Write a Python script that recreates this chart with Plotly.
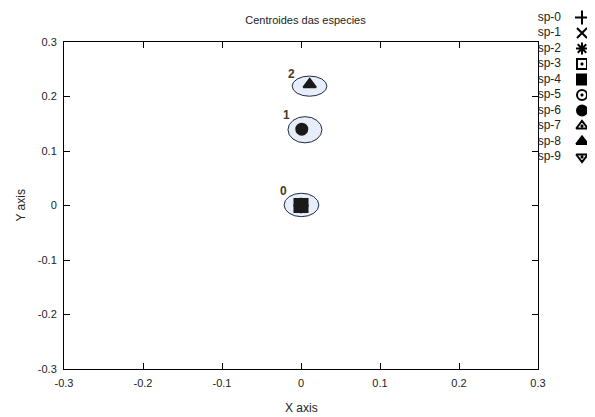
import plotly.graph_objects as go

# ---- data ----
species = ["sp-0", "sp-1", "sp-2", "sp-3", "sp-4", "sp-5", "sp-6", "sp-7", "sp-8", "sp-9"]
species_x = [0.0, 0.0, 0.0, 0.0, 0.0, 0.0, 0.001, 0.0, 0.011, 0.0]
species_y = [0.0, 0.0, 0.0, 0.0, 0.0, 0.0, 0.14, 0.0, 0.222, 0.0]
symbols = ["cross-thin-open", "x-thin-open", "asterisk-open", "square-open-dot", "square",
           "circle-open-dot", "circle", "triangle-up-open-dot", "triangle-up", "triangle-down-open-dot"]

groups = ["0", "1", "2"]
group_cx = [0.0006, 0.005, 0.0108]
group_cy = [0.001, 0.139, 0.219]
group_rx = [0.022, 0.0215, 0.022]
group_ry = [0.0215, 0.024, 0.0185]

tick_vals = [-0.3, -0.2, -0.1, 0, 0.1, 0.2, 0.3]
tick_text = ["-0.3", "-0.2", "-0.1", "0", "0.1", "0.2", "0.3"]

# figure geometry (page body adds an 8px offset)
W, H = 587, 409
L, B = 56, 48
PLOT_W = W - L
PLOT_H = H - B
RIGHT, TOP = 530, 34
x_dom_end = (RIGHT - L) / PLOT_W
y_dom_end = (PLOT_H - TOP) / PLOT_H

font = "Liberation Sans, Arial, sans-serif"
fig = go.Figure()

# species markers (filled square drawn last so it sits on top at origin)
order = [i for i in range(len(species)) if i != 4] + [4]
for i in order:
    fig.add_trace(go.Scatter(
        x=[species_x[i]], y=[species_y[i]], mode="markers",
        marker=dict(symbol=symbols[i], size=13 if i == 4 else 11, color="#1a1a1a",
                    line=dict(color="#1a1a1a", width=2)),
        showlegend=False, xaxis="x", yaxis="y", hoverinfo="skip"))

# gnuplot-style key on the right
row5, rowstep = 87, 15.5
for i, name in enumerate(species):
    yy = row5 + rowstep * (i - 5)
    fig.add_trace(go.Scatter(
        x=[574], y=[yy], mode="markers", cliponaxis=False,
        marker=dict(symbol=symbols[i], size=10, color="#000",
                    line=dict(color="#000", width=2)),
        showlegend=False, xaxis="x2", yaxis="y2", hoverinfo="skip"))
    fig.add_trace(go.Scatter(
        x=[553], y=[yy], mode="text", text=[name], textposition="middle left",
        cliponaxis=False,
        textfont=dict(family=font, size=12, color="#222"),
        showlegend=False, xaxis="x2", yaxis="y2", hoverinfo="skip"))

# ellipses + group labels
for g, cx, cy, rx, ry in zip(groups, group_cx, group_cy, group_rx, group_ry):
    fig.add_shape(type="circle", xref="x", yref="y",
                  x0=cx - rx, x1=cx + rx, y0=cy - ry, y1=cy + ry,
                  fillcolor="#e7eefa", line=dict(color="#1e2a40", width=1), layer="below")
    fig.add_annotation(x=cx - rx, y=cy + ry, xref="x", yref="y", text="<b>%s</b>" % g,
                       showarrow=False, xanchor="center", yanchor="middle", xshift=-1, yshift=2,
                       font=dict(family=font, size=12, color="#4a3a26"))

# axis titles
fig.add_annotation(x=0.5, y=0, xref="x domain", yref="y domain", yshift=-39,
                   text="X axis", showarrow=False, xanchor="center", yanchor="middle",
                   font=dict(family=font, size=12, color="#222"))
fig.add_annotation(x=0, y=0.5, xref="x domain", yref="y domain", xshift=-44,
                   text="Y axis", textangle=-90, showarrow=False, xanchor="center",
                   yanchor="middle", font=dict(family=font, size=12, color="#222"))

axis_common = dict(showgrid=False, zeroline=False, showline=True, mirror="ticks",
                   linecolor="black", linewidth=1, ticks="inside", ticklen=6,
                   tickcolor="black", tickvals=tick_vals, ticktext=tick_text,
                   automargin=False,
                   tickfont=dict(family=font, size=11, color="#222"))

fig.update_layout(
    template="none",
    width=W, height=H,
    margin=dict(l=L, r=0, t=0, b=B),
    paper_bgcolor="white", plot_bgcolor="white",
    showlegend=False,
    title=dict(text="Centroides das especies", x=297.5 / W, xanchor="center",
               y=1 - 12 / H, yanchor="middle", font=dict(family=font, size=11, color="#222")),
    xaxis=dict(range=[-0.3, 0.3], domain=[0, x_dom_end], anchor="y",
               ticklabelstandoff=4, **axis_common),
    yaxis=dict(range=[-0.3, 0.3], domain=[0, y_dom_end], anchor="x",
               ticklabelstandoff=4, **axis_common),
    xaxis2=dict(domain=[x_dom_end, 1], range=[RIGHT, W], visible=False, anchor="y2",
                fixedrange=True, automargin=False),
    yaxis2=dict(domain=[0, 1], range=[PLOT_H, 0], visible=False, anchor="x2",
                fixedrange=True, automargin=False),
)

fig.write_html("out.html")
